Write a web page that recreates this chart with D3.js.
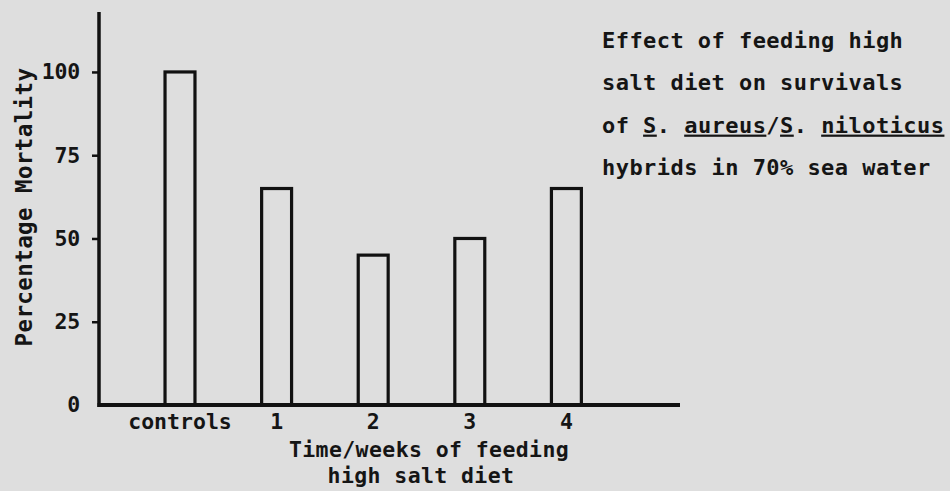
<!DOCTYPE html>
<html>
<head>
<meta charset="utf-8">
<script src="https://cdn.jsdelivr.net/npm/d3@7"></script>
<style>
  html, body { margin: 0; padding: 0; background: #dedede; }
  svg { display: block; }
  text { font-family: "DejaVu Sans Mono", "Liberation Mono", monospace; font-weight: bold; fill: #151515; }
</style>
</head>
<body>
<svg id="chart" width="950" height="491"></svg>
<script>
const categories = ["controls", "1", "2", "3", "4"];
const mortality = [100, 65, 45, 50, 65];
const yTicks = [0, 25, 50, 75, 100];
const yLabel = "Percentage Mortality";
const xLabelLines = ["Time/weeks of feeding", "high salt diet"];
const titleLines = [
  [{t: "Effect of feeding high"}],
  [{t: "salt diet on survivals"}],
  [{t: "of "}, {t: "S", u: true}, {t: ". "}, {t: "aureus", u: true}, {t: "/"}, {t: "S", u: true}, {t: ". "}, {t: "niloticus", u: true}],
  [{t: "hybrids in 70% sea water"}]
];

const svg = d3.select("#chart");
svg.append("rect").attr("width", 950).attr("height", 491).attr("fill", "#dedede");

const x0 = 99, x1 = 680, yBase = 405, yTop = 12;
const x = d3.scaleBand().domain(categories).range([131.7, 614.7]).paddingInner(0.69).paddingOuter(0.345);
const y = d3.scaleLinear().domain([0, 118]).range([yBase, yTop]);

// bars
svg.append("g").selectAll("rect").data(mortality).join("rect")
  .attr("x", (d, i) => x(categories[i]))
  .attr("y", d => y(d))
  .attr("width", x.bandwidth())
  .attr("height", d => yBase - y(d))
  .attr("fill", "none")
  .attr("stroke", "#111")
  .attr("stroke-width", 3.2);

// y axis
const yAxis = d3.axisLeft(y).tickValues(yTicks).tickSize(7).tickPadding(12).tickFormat(d3.format("d"));
const gy = svg.append("g").attr("transform", `translate(${x0},0)`).call(yAxis);
gy.select(".domain").remove();
gy.selectAll(".tick line").attr("stroke", "#111").attr("stroke-width", 2.5);
gy.selectAll(".tick").filter(d => d === 0).select("line").remove();
gy.selectAll(".tick text")
  .attr("x", -19).attr("text-anchor", "end")
  .attr("font-size", 21.5).style("letter-spacing", "-0.2px")
  .attr("font-family", "DejaVu Sans Mono").attr("font-weight", "bold");
svg.append("line").attr("x1", x0).attr("x2", x0).attr("y1", y(118)).attr("y2", yBase + 2)
  .attr("stroke", "#111").attr("stroke-width", 3.5);

// x axis
const xAxis = d3.axisBottom(x).tickSize(0).tickPadding(9);
const gx = svg.append("g").attr("transform", `translate(0,${yBase})`).call(xAxis);
gx.select(".domain").remove();
gx.selectAll(".tick text").attr("font-size", 21.5).style("letter-spacing", "0px")
  .attr("font-family", "DejaVu Sans Mono").attr("font-weight", "bold");
svg.append("line").attr("x1", x0 - 1.5).attr("x2", x1).attr("y1", yBase).attr("y2", yBase)
  .attr("stroke", "#111").attr("stroke-width", 4);

// x axis title
svg.append("g").selectAll("text").data(xLabelLines).join("text")
  .attr("x", (d, i) => i === 0 ? 429 : 421)
  .attr("y", (d, i) => 457 + i * 26)
  .attr("text-anchor", "middle")
  .attr("font-size", 21.5)
  .style("letter-spacing", "0.4px")
  .text(d => d);

// y axis title
svg.append("text")
  .attr("transform", "translate(32,207) rotate(-90)")
  .attr("text-anchor", "middle")
  .attr("font-size", 22.5)
  .style("letter-spacing", "0.4px")
  .text(yLabel);

// title block
const tg = svg.append("g");
titleLines.forEach((line, i) => {
  const t = tg.append("text")
    .attr("x", 602).attr("y", 48 + i * 42.3)
    .attr("font-size", 22)
    .style("letter-spacing", "0.45px")
    .attr("xml:space", "preserve");
  line.forEach(seg => {
    t.append("tspan").text(seg.t).style("text-decoration", seg.u ? "underline" : "none")
      .style("white-space", "pre");
  });
});
</script>
</body>
</html>
